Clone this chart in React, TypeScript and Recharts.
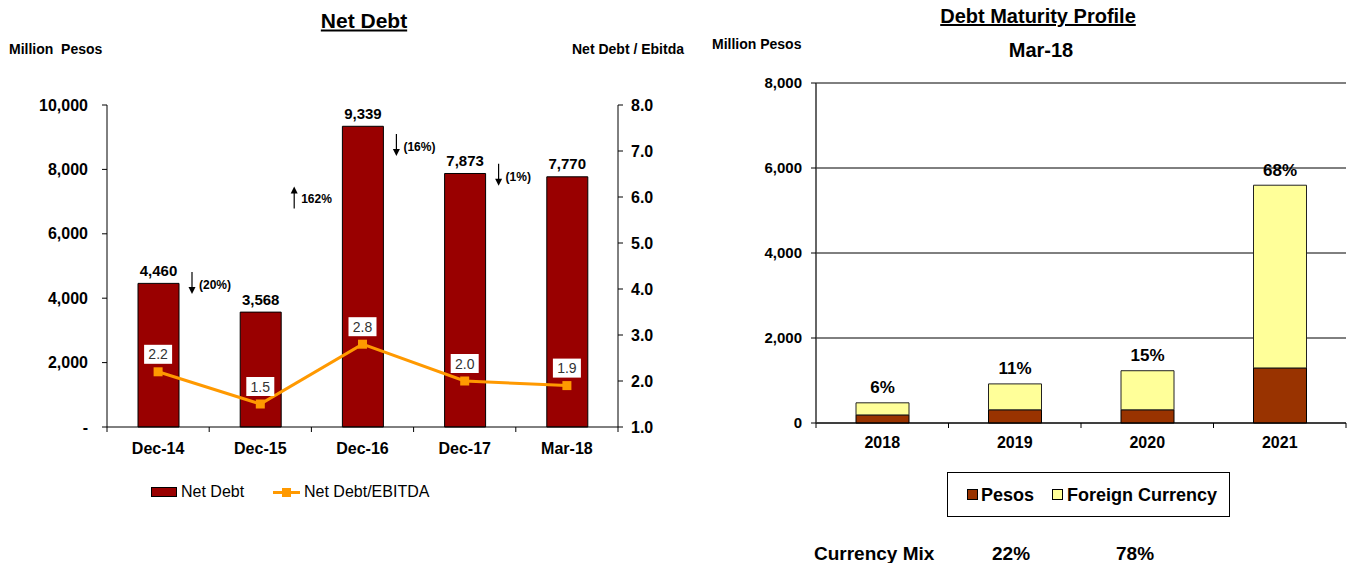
import React from 'react';
import {
  Bar,
  BarChart,
  CartesianGrid,
  ComposedChart,
  LabelList,
  Line,
  XAxis,
  YAxis,
} from 'recharts';

const font = "'Liberation Sans', Arial, sans-serif";

// Net Debt chart
const periods = ['Dec-14', 'Dec-15', 'Dec-16', 'Dec-17', 'Mar-18'];
const netDebt = [4460, 3568, 9339, 7873, 7770];
const debtToEbitda = [2.2, 1.5, 2.8, 2.0, 1.9];
const changeText = ['(20%)', '162%', '(16%)', '(1%)', ''];
const changeUp = [false, true, false, false, false];
// level (million pesos) where each change arrow sits
const changeLevel = [4470, 7130, 8760, 7830, 0];
const debtTicks = [0, 2000, 4000, 6000, 8000, 10000];
const ratioTicks = [1, 2, 3, 4, 5, 6, 7, 8];

// Debt maturity chart
const maturityYears = ['2018', '2019', '2020', '2021'];
const pesosDebt = [190, 310, 310, 1295];
const foreignDebt = [285, 610, 920, 4300];
const maturityShare = ['6%', '11%', '15%', '68%'];
const maturityTicks = [0, 2000, 4000, 6000, 8000];
const currencyMix = ['22%', '78%'];

const netDebtData = periods.map((p, i) => ({
  period: p,
  netDebt: netDebt[i],
  ratio: debtToEbitda[i],
}));

const maturityData = maturityYears.map((y, i) => ({
  year: y,
  pesos: pesosDebt[i],
  foreign: foreignDebt[i],
}));

const fmt = (v: number) => (v === 0 ? '-' : v.toLocaleString('en-US'));

// category ticks drawn on band boundaries, like Excel
const BandTick = (props: any) => {
  const { x, y, payload, index, visibleTicksCount, half, gap, size } = props;
  const h = typeof payload?.offset === 'number' && payload.offset > 0 ? payload.offset : half;
  const isLast = index === visibleTicksCount - 1;
  return (
    <g>
      <line x1={x - h} x2={x - h} y1={y} y2={y + 5} stroke="#000" />
      {isLast && <line x1={x + h} x2={x + h} y1={y} y2={y + 5} stroke="#000" />}
      <text
        x={x}
        y={y + gap}
        textAnchor="middle"
        dominantBaseline="central"
        fontSize={size}
        fontWeight="bold"
        fontFamily={font}
        fill="#000"
      >
        {payload.value}
      </text>
    </g>
  );
};

const DebtLabel = (props: any) => {
  const { x, y, width, height, value, index } = props;
  const cx = x + width / 2;
  const label = changeText[index];
  let arrow = null;
  if (label) {
    const ay = y + height - (changeLevel[index] * height) / value;
    const ax = x + width + 13;
    const top = ay - 11;
    const bot = ay + 11;
    arrow = changeUp[index] ? (
      <g>
        <line x1={ax} x2={ax} y1={top + 5} y2={bot} stroke="#000" strokeWidth={1.2} />
        <path d={`M${ax - 3.5},${top + 7} L${ax + 3.5},${top + 7} L${ax},${top} Z`} fill="#000" />
      </g>
    ) : (
      <g>
        <line x1={ax} x2={ax} y1={top} y2={bot - 5} stroke="#000" strokeWidth={1.2} />
        <path d={`M${ax - 3.5},${bot - 7} L${ax + 3.5},${bot - 7} L${ax},${bot} Z`} fill="#000" />
      </g>
    );
    arrow = (
      <g>
        {arrow}
        <text
          x={ax + 7}
          y={ay + 2}
          dominantBaseline="central"
          fontSize={12}
          fontWeight="bold"
          fontFamily={font}
          fill="#000"
        >
          {label}
        </text>
      </g>
    );
  }
  return (
    <g>
      <text
        x={cx}
        y={y - 13}
        textAnchor="middle"
        dominantBaseline="central"
        fontSize={15}
        fontWeight="bold"
        fontFamily={font}
        fill="#000"
      >
        {value.toLocaleString('en-US')}
      </text>
      {arrow}
    </g>
  );
};

const RatioLabel = (props: any) => {
  const { x, y, value } = props;
  return (
    <g>
      <rect x={x - 14} y={y - 27} width={28} height={19} fill="#fff" />
      <text
        x={x}
        y={y - 17.5}
        textAnchor="middle"
        dominantBaseline="central"
        fontSize={14}
        fontFamily={font}
        fill="#333"
      >
        {Number(value).toFixed(1)}
      </text>
    </g>
  );
};

const SquareDot = (props: any) => {
  const { cx, cy, index } = props;
  return <rect key={`sq-${index}`} x={cx - 4.5} y={cy - 4.5} width={9} height={9} fill="#FF9900" />;
};

const ShareLabel = (props: any) => {
  const { x, y, width, index } = props;
  return (
    <text
      x={x + width / 2}
      y={y - 15}
      textAnchor="middle"
      dominantBaseline="central"
      fontSize={17}
      fontWeight="bold"
      fontFamily={font}
      fill="#000"
    >
      {maturityShare[index]}
    </text>
  );
};

const abs = (left: number, top: number, extra: React.CSSProperties = {}): React.CSSProperties => ({
  position: 'absolute',
  left,
  top,
  whiteSpace: 'nowrap',
  lineHeight: 1,
  fontFamily: font,
  color: '#000',
  ...extra,
});

const centered = { transform: 'translate(-50%, -50%)' };
const midY = { transform: 'translateY(-50%)' };

export default function App() {
  return (
    <div
      style={{
        position: 'absolute',
        left: 0,
        top: 0,
        width: 1352,
        height: 563,
        overflow: 'hidden',
        background: '#fff',
      }}
    >
      {/* Net Debt */}
      <div style={abs(364, 20, { ...centered, fontSize: 21, fontWeight: 'bold', textDecoration: 'underline' })}>
        Net Debt
      </div>
      <div style={abs(9, 49, { ...midY, fontSize: 14, fontWeight: 'bold', whiteSpace: 'pre' })}>Million  Pesos</div>
      <div style={abs(572, 49, { ...midY, fontSize: 14, fontWeight: 'bold' })}>Net Debt / Ebitda</div>

      <div style={{ position: 'absolute', left: 0, top: 0 }}>
        <ComposedChart
          width={700}
          height={520}
          data={netDebtData}
          margin={{ top: 105, right: 22, bottom: 63, left: 0 }}
        >
          <XAxis
            dataKey="period"
            height={30}
            tickSize={0}
            tickMargin={0}
            axisLine={{ stroke: '#000' }}
            tickLine={false}
            interval={0}
            tick={<BandTick half={51.1} gap={21} size={16} />}
          />
          <YAxis
            yAxisId="left"
            width={107}
            domain={[0, 10000]}
            ticks={debtTicks}
            tickFormatter={fmt}
            tickSize={5}
            tickMargin={14}
            axisLine={{ stroke: '#000' }}
            tickLine={{ stroke: '#000' }}
            tick={{ fill: '#000', fontSize: 16, fontWeight: 'bold', fontFamily: font }}
          />
          <YAxis
            yAxisId="right"
            orientation="right"
            width={60}
            domain={[1, 8]}
            ticks={ratioTicks}
            tickFormatter={(v: number) => v.toFixed(1)}
            tickSize={5}
            tickMargin={8}
            axisLine={{ stroke: '#000' }}
            tickLine={{ stroke: '#000' }}
            tick={{ fill: '#000', fontSize: 16, fontWeight: 'bold', fontFamily: font, textAnchor: 'start' }}
          />
          <Bar
            yAxisId="left"
            dataKey="netDebt"
            name="Net Debt"
            fill="#990000"
            stroke="#000"
            strokeWidth={1}
            barSize={41}
            isAnimationActive={false}
          >
            <LabelList dataKey="netDebt" content={<DebtLabel />} />
          </Bar>
          <Line
            yAxisId="right"
            dataKey="ratio"
            name="Net Debt/EBITDA"
            stroke="#FF9900"
            strokeWidth={3}
            dot={SquareDot}
            activeDot={false}
            isAnimationActive={false}
          >
            <LabelList dataKey="ratio" content={<RatioLabel />} />
          </Line>
        </ComposedChart>
      </div>

      {/* left legend */}
      <div style={abs(151, 487, { width: 26, height: 10, background: '#990000', border: '1px solid #000', boxSizing: 'border-box' })} />
      <div style={abs(181, 492, { ...midY, fontSize: 16 })}>Net Debt</div>
      <div style={abs(273, 490.5, { width: 27, height: 3, background: '#FF9900' })} />
      <div style={abs(282, 488, { width: 9, height: 9, background: '#FF9900' })} />
      <div style={abs(304, 492, { ...midY, fontSize: 16 })}>Net Debt/EBITDA</div>

      {/* Debt Maturity Profile */}
      <div style={abs(1038, 16, { ...centered, fontSize: 20, fontWeight: 'bold', textDecoration: 'underline' })}>
        Debt Maturity Profile
      </div>
      <div style={abs(712, 44, { ...midY, fontSize: 14, fontWeight: 'bold' })}>Million Pesos</div>
      <div style={abs(1041, 50, { ...centered, fontSize: 20, fontWeight: 'bold' })}>Mar-18</div>

      <div style={{ position: 'absolute', left: 700, top: 0 }}>
        <BarChart
          width={652}
          height={563}
          data={maturityData}
          margin={{ top: 83, right: 6, bottom: 110, left: 0 }}
        >
          <CartesianGrid vertical={false} stroke="#000" horizontalValues={maturityTicks} />
          <XAxis
            dataKey="year"
            height={30}
            tickSize={0}
            tickMargin={0}
            axisLine={{ stroke: '#000' }}
            tickLine={false}
            interval={0}
            tick={<BandTick half={66.25} gap={19} size={16} />}
          />
          <YAxis
            width={116}
            domain={[0, 8000]}
            ticks={maturityTicks}
            tickFormatter={(v: number) => v.toLocaleString('en-US')}
            tickSize={5}
            tickMargin={9}
            axisLine={{ stroke: '#333', strokeWidth: 1.5 }}
            tickLine={{ stroke: '#000' }}
            tick={{ fill: '#000', fontSize: 15, fontWeight: 'bold', fontFamily: font }}
          />
          <YAxis
            yAxisId="edge"
            orientation="right"
            width={0}
            domain={[0, 8000]}
            tick={false}
            tickLine={false}
            axisLine={{ stroke: '#000' }}
          />
          <Bar dataKey="pesos" name="Pesos" stackId="m" fill="#993300" stroke="#000" barSize={53} isAnimationActive={false} />
          <Bar dataKey="foreign" name="Foreign Currency" stackId="m" fill="#FFFF99" stroke="#222" barSize={53} isAnimationActive={false}>
            <LabelList dataKey="foreign" content={<ShareLabel />} />
          </Bar>
        </BarChart>
      </div>

      {/* right legend */}
      <div style={abs(947, 472, { width: 283, height: 45, border: '1px solid #000', boxSizing: 'border-box', background: '#fff' })} />
      <div style={abs(967, 489, { width: 11, height: 11, background: '#993300', border: '1px solid #000', boxSizing: 'border-box' })} />
      <div style={abs(981, 494.5, { ...midY, fontSize: 18, fontWeight: 'bold' })}>Pesos</div>
      <div style={abs(1052, 489, { width: 11, height: 11, background: '#FFFF99', border: '1px solid #000', boxSizing: 'border-box' })} />
      <div style={abs(1067, 494.5, { ...midY, fontSize: 18, fontWeight: 'bold' })}>Foreign Currency</div>

      <div style={abs(814, 553, { ...midY, fontSize: 19, fontWeight: 'bold' })}>Currency Mix</div>
      <div style={abs(992, 553, { ...midY, fontSize: 19, fontWeight: 'bold' })}>{currencyMix[0]}</div>
      <div style={abs(1116, 553, { ...midY, fontSize: 19, fontWeight: 'bold' })}>{currencyMix[1]}</div>
    </div>
  );
}
